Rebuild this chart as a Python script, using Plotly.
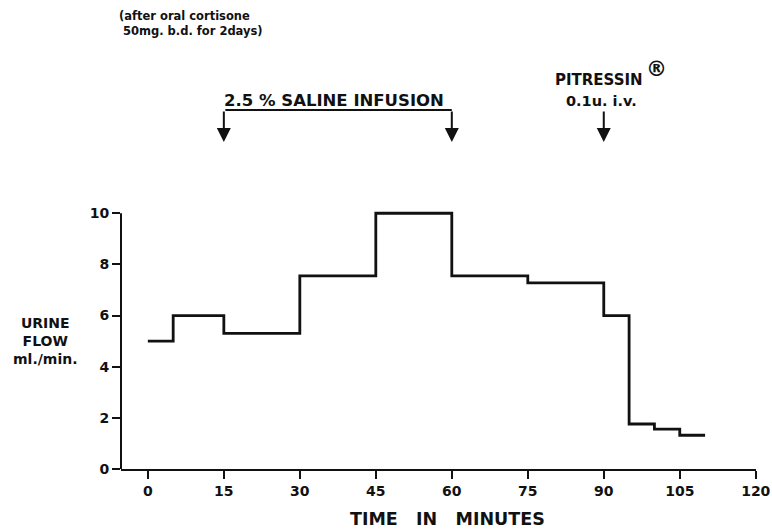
import plotly.graph_objects as go

# Data
period_start = [0, 5, 15, 30, 45, 60, 75, 90, 95, 100, 105, 110]
urine_flow = [5.0, 6.0, 5.3, 7.55, 10.0, 7.55, 7.28, 6.0, 1.76, 1.56, 1.32, 1.32]
x_ticks = [0, 15, 30, 45, 60, 75, 90, 105, 120]
y_ticks = [0, 2, 4, 6, 8, 10]
saline_start, saline_end = 15, 60
pitressin_time = 90

FONT = "DejaVu Sans"
BLACK = "#111111"

fig = go.Figure()
fig.add_trace(go.Scatter(
    x=period_start, y=urine_flow, mode="lines", line_shape="hv",
    line=dict(color=BLACK, width=2.8), hoverinfo="skip", showlegend=False,
))

# y-axis line only from 0 to 10
fig.add_shape(type="line", xref="paper", yref="y", x0=0, x1=0, y0=0, y1=10,
              line=dict(color=BLACK, width=2))

ann = []
yb = 1.3496   # bracket level (paper)
ytip = 1.2293  # arrow tips (paper)
arrow_len = 32
# Saline bracket horizontal
ann.append(dict(x=saline_end, y=yb, ax=saline_start, ay=0, xref="x", yref="paper",
                axref="x", ayref="pixel", text="", showarrow=True, arrowhead=0, arrowwidth=2,
                arrowcolor=BLACK, standoff=0, startstandoff=0))
for xv in [saline_start, saline_end, pitressin_time]:
    ann.append(dict(x=xv, y=ytip, ax=0, ay=-arrow_len, xref="x", yref="paper",
                    text="", showarrow=True, arrowhead=2,
                    arrowsize=1.4, arrowwidth=2, arrowcolor=BLACK, standoff=0))


def label(text, x, y, size, xref="x", xanchor="center", align="center"):
    ann.append(dict(x=x, y=y, xref=xref, yref="paper", text=text, xanchor=xanchor,
                    yanchor="middle", align=align, showarrow=False,
                    font=dict(family=FONT, size=size, color=BLACK)))


label("<b>2.5 % SALINE INFUSION</b>", 36.8, 1.387, 16.5)
label("<b>PITRESSIN</b>", 89, 1.462, 15)
label("<b>0.1u. i.v.</b>", 89.5, 1.383, 14.5)
label("<b>®</b>", 100.5, 1.505, 21)
label("<b>(after oral cortisone<br> 50mg. b.d. for 2days)</b>", -0.006, 1.673, 11.5,
      xref="paper", xanchor="left", align="left")
label("<b>URINE<br>FLOW<br>ml./min.</b>", -0.119, 0.481, 14, xref="paper")
label("<b>TIME   IN   MINUTES</b>", 59.2, -0.188, 17.5)

fig.update_layout(
    width=772, height=529,
    margin=dict(l=121, r=16, t=203, b=60, autoexpand=False),
    paper_bgcolor="white", plot_bgcolor="white",
    showlegend=False,
    annotations=ann,
    xaxis=dict(range=[-5.3, 120.05], tickmode="array", tickvals=x_ticks,
               ticktext=[f"<b>{v}</b>" for v in x_ticks], automargin=False,
               showline=True, linecolor=BLACK, linewidth=2,
               ticks="outside", ticklen=8, tickwidth=2, tickcolor=BLACK,
               showgrid=False, zeroline=False, ticklabeloverflow="allow",
               tickfont=dict(family=FONT, size=14, color=BLACK)),
    yaxis=dict(range=[0, 10.4], tickmode="array", tickvals=y_ticks,
               ticktext=[f"<b>{v}</b>" for v in y_ticks], automargin=False,
               showline=False, ticks="outside", ticklen=8, tickwidth=2, tickcolor=BLACK,
               showgrid=False, zeroline=False,
               tickfont=dict(family=FONT, size=14, color=BLACK)),
)

fig.write_html("out.html", config={"displayModeBar": False},
               post_script="document.body.style.margin='0';document.body.style.overflow='hidden';")
